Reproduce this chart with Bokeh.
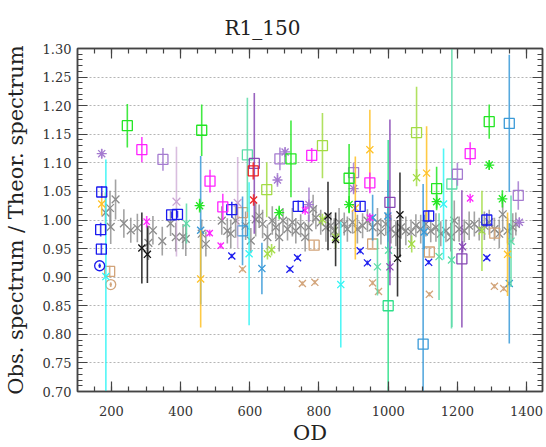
from bokeh.plotting import figure
from bokeh.models import Range1d, SingleIntervalTicker, LinearAxis, PrintfTickFormatter
from bokeh.embed import file_html
from bokeh.resources import INLINE

# ---------------- data ----------------
gray_od = [183, 196, 212, 198, 236, 256, 275, 307, 320, 347,
           371, 386, 407, 415, 461, 473, 519, 535,
           545, 559, 588, 603, 617, 627, 637, 651, 665, 675,
           685, 696, 709, 723, 733, 747, 760, 770, 783, 791,
           805, 820, 834, 844, 858, 873, 882, 897, 911, 926,
           940, 955, 969,
           979, 993, 1008, 1022, 1037, 1051, 1066, 1080, 1094,
           1109, 1123, 1138, 1152, 1167, 1181, 1191, 1205, 1220, 1234,
           1249, 1263, 1278, 1292, 1307, 1321, 1331, 1345, 1360, 1369]
gray_val = [1.013, 1.021, 1.036, 0.988, 0.994, 0.982, 0.986, 0.960, 0.982, 0.963,
            0.994, 0.970, 0.971, 0.967, 0.976, 0.958, 0.999, 0.981,
            0.976, 0.999, 0.990, 0.964, 1.001, 1.007, 0.993, 0.970, 0.999, 0.987,
            0.970, 0.999, 0.984, 0.996, 0.981, 0.990, 0.970, 0.987, 1.019, 1.004,
            0.996, 0.987, 0.990, 0.981, 0.996, 0.993, 0.984, 0.996, 0.984, 0.990,
            0.999, 0.987, 0.996,
            0.979, 0.993, 0.984, 0.976, 0.987, 0.981, 0.979, 0.990, 0.984,
            0.993, 0.981, 0.987, 0.976, 0.981, 0.970, 0.999, 0.984, 0.981, 0.990,
            0.993, 0.984, 0.990, 0.996, 0.984, 0.976, 1.010, 0.981, 0.987, 0.993]
gray_err = [0.035, 0.030, 0.035, 0.030, 0.025, 0.022, 0.025, 0.030, 0.025, 0.025,
            0.022, 0.025, 0.022, 0.030, 0.025, 0.022, 0.025, 0.022,
            0.025, 0.030, 0.025, 0.022, 0.030, 0.020, 0.025, 0.022, 0.025, 0.020,
            0.025, 0.022, 0.020, 0.025, 0.022, 0.020, 0.025, 0.022, 0.025, 0.020,
            0.022, 0.025, 0.020, 0.022, 0.025, 0.020, 0.022, 0.020, 0.025, 0.022,
            0.020, 0.022, 0.025,
            0.022, 0.020, 0.025, 0.022, 0.020, 0.025, 0.022, 0.020, 0.025,
            0.022, 0.020, 0.025, 0.022, 0.020, 0.025, 0.035, 0.022, 0.020, 0.025,
            0.022, 0.020, 0.025, 0.022, 0.020, 0.025, 0.030, 0.022, 0.025, 0.020]

green_sq_od = [246, 461, 719, 887, 1140, 1292]
green_sq_val = [1.165, 1.157, 1.107, 1.073, 1.055, 1.172]
green_sq_err = [0.038, 0.045, 0.067, 0.060, 0.038, 0.030]

green_st_od = [455, 685, 887, 1140, 1292, 1330]
green_st_val = [1.025, 1.013, 1.027, 1.032, 1.096, 1.037]
green_st_err = [0.012, 0.012, 0.015, 0.012, 0.008, 0.015]

mag_sq_od = [288, 485, 522, 779, 947, 1237]
mag_sq_val = [1.123, 1.068, 1.023, 1.113, 1.065, 1.116]
mag_sq_err = [0.022, 0.020, 0.023, 0.013, 0.018, 0.020]

mag_x_od = [302, 484, 516, 760, 947, 1237]
mag_x_val = [0.997, 0.977, 0.955, 1.017, 1.004, 1.038]
mag_x_err = [0.010, 0.006, 0.005, 0.008, 0.008, 0.008]

mpur_sq_od = [349, 687, 900, 1200, 1376]
mpur_sq_val = [1.106, 1.107, 1.083, 1.080, 1.043]
mpur_sq_err = [0.020, 0.020, 0.017, 0.020, 0.025]

mpur_st_od = [172, 680, 702, 771, 900, 1379]
mpur_st_val = [1.116, 1.070, 1.119, 1.027, 1.055, 0.996]
mpur_st_err = [0.008, 0.012, 0.008, 0.030, 0.010, 0.008]

dpur_sq_od = [613, 1005, 1213]
dpur_sq_val = [1.099, 1.031, 0.932]
dpur_sq_err = [0.123, 0.145, 0.120]

dpur_x_od = [1005, 1215]
dpur_x_val = [0.918, 0.953]
dpur_x_err = [0.010, 0.010]

thistle_x_od = [388, 565]
thistle_x_val = [1.032, 1.030]
thistle_x_err = [0.096, 0.080]

blue_sq_od = [172, 169, 171, 374, 391, 548, 740, 919, 1117, 1285]
blue_sq_val = [1.049, 0.983, 0.949, 1.009, 1.010, 1.018, 1.024, 1.024, 1.007, 1.000]
blue_sq_err = [0.010, 0.012, 0.010, 0.006, 0.006, 0.014, 0.010, 0.008, 0.010, 0.012]

blue_ci_od = [166]
blue_ci_val = [0.920]
blue_ci_err = [0.004]

blue_x_od = [548, 716, 738, 919, 940, 1117, 1285]
blue_x_val = [0.937, 0.914, 0.934, 0.946, 0.925, 0.926, 0.934]
blue_x_err = [0.004, 0.004, 0.004, 0.004, 0.004, 0.004, 0.004]

cyan_x_od = [184, 598, 863, 1160]
cyan_x_val = [0.901, 0.941, 0.887, 1.028]
cyan_x_err = [0.205, 0.125, 0.110, 0.097]

steel_x_od = [458, 635, 955, 999, 1104, 1350]
steel_x_val = [0.982, 0.915, 1.004, 1.007, 0.979, 0.889]
steel_x_err = [0.130, 0.045, 0.040, 0.063, 0.030, 0.105]

steel_sq_od = [579, 1101, 1350]
steel_sq_val = [0.981, 0.783, 1.169]
steel_sq_err = [0.060, 0.280, 0.120]

aqua_sq_od = [593, 1184]
aqua_sq_val = [1.114, 1.063]
aqua_sq_err = [0.100, 0.250]

spring_sq_od = [1000]
spring_sq_val = [0.850]
spring_sq_err = [0.290]

aqua_x_od = [417, 969, 1001, 1147, 1183, 1355]
aqua_x_val = [0.994, 0.918, 0.947, 0.936, 0.930, 0.963]
aqua_x_err = [0.035, 0.050, 0.015, 0.076, 0.120, 0.080]

tan_sq_od = [195, 579, 786, 955, 1119, 1308]
tan_sq_val = [0.910, 1.013, 0.956, 0.958, 0.944, 0.977]
tan_sq_err = [0.010, 0.008, 0.008, 0.008, 0.008, 0.008]

tan_x_od = [579, 752, 788, 955, 972, 1119, 1307, 1334]
tan_x_val = [0.914, 0.889, 0.891, 0.890, 0.875, 0.870, 0.884, 0.880]
tan_x_err = [0.004, 0.004, 0.004, 0.004, 0.004, 0.004, 0.004, 0.004]

tan_ci_od = [198]
tan_ci_val = [0.887]
tan_ci_err = [0.004]

gold_x_od = [172, 458, 905, 947, 1111, 1345]
gold_x_val = [1.028, 0.897, 1.021, 1.123, 1.082, 0.940]
gold_x_err = [0.020, 0.085, 0.090, 0.070, 0.082, 0.073]

yg_sq_od = [649, 810, 1082]
yg_sq_val = [1.053, 1.130, 1.153]
yg_sq_err = [0.048, 0.057, 0.080]

yg_x_od = [651, 663, 810, 848, 1068, 1082, 1271]
yg_x_val = [0.941, 0.948, 1.001, 0.970, 0.958, 1.074, 0.981]
yg_x_err = [0.010, 0.010, 0.010, 0.020, 0.015, 0.015, 0.070]

red_sq_od = [610]
red_sq_val = [1.086]
red_sq_err = [0.015]

red_x_od = [611]
red_x_val = [1.035]
red_x_err = [0.010]

black_x_od = [288, 304, 826, 848, 1027, 1034]
black_x_val = [0.951, 0.940, 1.007, 0.966, 0.933, 1.009]
black_x_err = [0.062, 0.050, 0.060, 0.047, 0.067, 0.074]

x_ticks_interval = 200
y_ticks_interval = 0.05

# ---------------- figure ----------------
SERIF = "DejaVu Serif"
AX = "#444444"

p = figure(width=546, height=447, output_backend="svg", toolbar_location=None,
           x_range=Range1d(102, 1446), y_range=Range1d(0.70, 1.30),
           min_border_left=77, min_border_right=4, min_border_top=48, min_border_bottom=50,
           background_fill_color="white", border_fill_color="white")
p.outline_line_color = AX
p.outline_line_width = 1.5

p.title.text = "R1_150"
p.title.align = "left"
p.title.offset = 147
p.title.text_font = SERIF
p.title.text_font_size = "20px"
p.title.text_font_style = "normal"
p.title.text_color = "#222222"
p.title.standoff = 18

xt = SingleIntervalTicker(interval=x_ticks_interval, num_minor_ticks=4)
yt = SingleIntervalTicker(interval=y_ticks_interval, num_minor_ticks=5)

def style_axis(ax, labels=True, standoff=6):
    ax.major_tick_in = 10
    ax.major_tick_out = 0
    ax.minor_tick_in = 5
    ax.minor_tick_out = 0
    ax.major_tick_line_color = AX
    ax.minor_tick_line_color = AX
    ax.major_tick_line_width = 1.2
    ax.minor_tick_line_width = 1.2
    ax.axis_line_color = AX
    ax.axis_line_width = 1.5
    ax.major_label_text_font = SERIF
    if labels:
        ax.major_label_text_color = "#333333"
        ax.major_label_text_font_size = "13px"
        ax.major_label_standoff = standoff
    else:
        ax.major_label_text_color = None
        ax.major_label_text_font_size = "1px"
        ax.major_label_standoff = 0

p.xaxis.ticker = xt
p.yaxis.ticker = yt
p.yaxis.formatter = PrintfTickFormatter(format="%.2f")
style_axis(p.xaxis[0], standoff=14)
style_axis(p.yaxis[0], standoff=6)
p.xaxis.axis_label = "OD"
p.xaxis.axis_label_text_font = SERIF
p.xaxis.axis_label_text_font_size = "21px"
p.xaxis.axis_label_text_font_style = "normal"
p.xaxis.axis_label_text_color = "#222222"
p.xaxis.axis_label_standoff = 2
p.yaxis.axis_label = "Obs. spectrum / Theor. spectrum"
p.yaxis.axis_label_text_font = SERIF
p.yaxis.axis_label_text_font_size = "21px"
p.yaxis.axis_label_text_font_style = "normal"
p.yaxis.axis_label_text_color = "#222222"
p.yaxis.axis_label_standoff = 12

top = LinearAxis(ticker=xt)
style_axis(top, labels=False)
p.add_layout(top, "above")
right = LinearAxis(ticker=yt)
style_axis(right, labels=False)
p.add_layout(right, "right")

p.xgrid.visible = False
p.ygrid.grid_line_color = "#b5b5b5"
p.ygrid.grid_line_dash = "2 2"
p.ygrid.grid_line_width = 1

def series(od, val, err, color, marker, size=10, bar_alpha=0.85, lw=1.3):
    lo = [v - e for v, e in zip(val, err)]
    hi = [v + e for v, e in zip(val, err)]
    p.segment(x0=od, y0=lo, x1=od, y1=hi, line_color=color, line_width=1.6, line_alpha=bar_alpha)
    p.scatter(x=od, y=val, marker=marker, size=size, line_color=color, fill_color=None,
              line_width=lw)

series(gray_od, gray_val, gray_err, "#8c8c8c", "x", size=11, bar_alpha=0.8)
series(tan_x_od, tan_x_val, tan_x_err, "#d2a47a", "x", size=10)
series(tan_sq_od, tan_sq_val, tan_sq_err, "#d2a47a", "square", size=10)
series(tan_ci_od, tan_ci_val, tan_ci_err, "#d2a47a", "circle_dot", size=10)
series(spring_sq_od, spring_sq_val, spring_sq_err, "#2ee08a", "square", size=10)
series(steel_sq_od, steel_sq_val, steel_sq_err, "#3a9ad8", "square", size=10)
series(steel_x_od, steel_x_val, steel_x_err, "#3a9ad8", "x", size=10)
series(aqua_sq_od, aqua_sq_val, aqua_sq_err, "#5cdca8", "square", size=10)
series(aqua_x_od, aqua_x_val, aqua_x_err, "#5cdca8", "x", size=10)
series(cyan_x_od, cyan_x_val, cyan_x_err, "#33f5f5", "x", size=10)
series(thistle_x_od, thistle_x_val, thistle_x_err, "#c9a2d2", "x", size=11, bar_alpha=0.7)
series(dpur_sq_od, dpur_sq_val, dpur_sq_err, "#8748b4", "square", size=10)
series(dpur_x_od, dpur_x_val, dpur_x_err, "#8748b4", "x", size=10)
series(mpur_sq_od, mpur_sq_val, mpur_sq_err, "#a57bd0", "square", size=10)
series(mpur_st_od, mpur_st_val, mpur_st_err, "#a57bd0", "asterisk", size=10)
series(gold_x_od, gold_x_val, gold_x_err, "#ffc125", "x", size=10)
series(yg_sq_od, yg_sq_val, yg_sq_err, "#a3dc45", "square", size=10)
series(yg_x_od, yg_x_val, yg_x_err, "#a3dc45", "x", size=10)
series(black_x_od, black_x_val, black_x_err, "#151515", "x", size=10)
series(blue_x_od, blue_x_val, blue_x_err, "#1a1aee", "x", size=10)
series(blue_sq_od, blue_sq_val, blue_sq_err, "#1a1aee", "square", size=10)
series(blue_ci_od, blue_ci_val, blue_ci_err, "#1a1aee", "circle_dot", size=10)
series(mag_x_od, mag_x_val, mag_x_err, "#ff22ff", "x", size=9)
series(mag_sq_od, mag_sq_val, mag_sq_err, "#ff22ff", "square", size=10)
series(green_st_od, green_st_val, green_st_err, "#22e622", "asterisk", size=10)
series(green_sq_od, green_sq_val, green_sq_err, "#22e622", "square", size=10)
series(red_x_od, red_x_val, red_x_err, "#ee2222", "x", size=10)
series(red_sq_od, red_sq_val, red_sq_err, "#ee2222", "square", size=10)

open("out.html", "w").write(file_html(p, INLINE))
